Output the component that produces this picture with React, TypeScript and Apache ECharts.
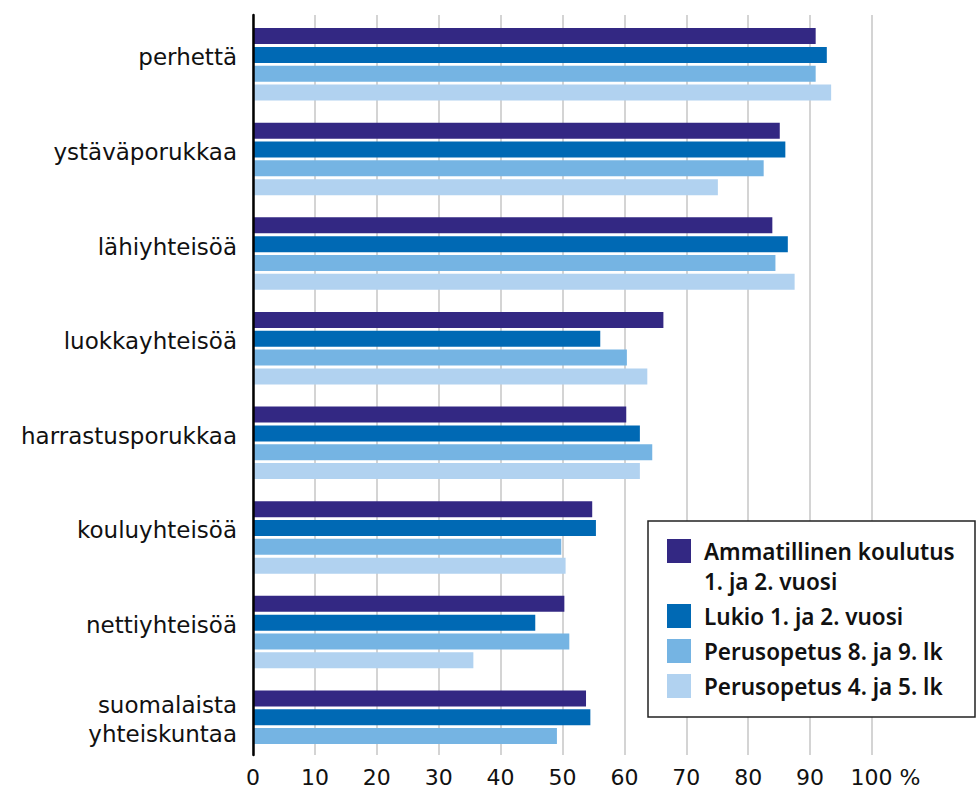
import React, { useEffect, useRef } from 'react';
import * as echarts from 'echarts';

const categories = [
  'perhettä',
  'ystäväporukkaa',
  'lähiyhteisöä',
  'luokkayhteisöä',
  'harrastusporukkaa',
  'kouluyhteisöä',
  'nettiyhteisöä',
  'suomalaista\nyhteiskuntaa',
];

const seriesNames = [
  'Ammatillinen koulutus\n1. ja 2. vuosi',
  'Lukio 1. ja 2. vuosi',
  'Perusopetus 8. ja 9. lk',
  'Perusopetus 4. ja 5. lk',
];

const ammatillinen = [90.9, 85.1, 83.9, 66.3, 60.3, 54.8, 50.3, 53.8];
const lukio = [92.7, 86.0, 86.4, 56.1, 62.5, 55.4, 45.6, 54.5];
const perus89 = [90.9, 82.5, 84.4, 60.4, 64.5, 49.8, 51.1, 49.1];
const perus45 = [93.4, 75.1, 87.5, 63.7, 62.5, 50.5, 35.6, null];

const seriesValues = [ammatillinen, lukio, perus89, perus45];
const colors = ['#332883', '#0069b4', '#75b4e3', '#b1d2f0'];

const xMin = 0;
const xMax = 100;
const xStep = 10;

export default function App() {
  const ref = useRef<HTMLDivElement>(null);

  useEffect(() => {
    const chart = echarts.init(ref.current!, null, { renderer: 'svg' });
    const legendText = {
      fontFamily: 'Noto Sans',
      fontSize: 22.5,
      fontWeight: 600,
      color: '#111',
      lineHeight: 30,
      padding: [0, 0, 0, 8],
    };
    chart.setOption({
      animation: false,
      backgroundColor: '#fff',
      grid: [
        { left: 253, width: 619, top: 17, height: 757 },
        { left: 253, width: 619, top: 15, height: 740 },
      ],
      xAxis: [
        { gridIndex: 0, type: 'value', min: xMin, max: xMax, show: false },
        {
          gridIndex: 1,
          type: 'value',
          min: xMin,
          max: xMax,
          interval: xStep,
          axisLine: { show: false },
          axisTick: { show: false },
          splitLine: { show: true, lineStyle: { color: '#c6c6c6', width: 1.5 } },
          axisLabel: {
            margin: 11,
            fontFamily: 'DejaVu Sans',
            fontSize: 22,
            color: '#111',
            formatter: (v: number) => (v === xMax ? '{pad|}' + v + ' %' : String(v)),
            rich: { pad: { width: 27 } },
          },
        },
      ],
      yAxis: [
        {
          gridIndex: 0,
          type: 'category',
          inverse: true,
          data: categories,
          axisLine: { show: false },
          axisTick: { show: false },
          splitLine: { show: false },
          axisLabel: {
            interval: 0,
            margin: 16,
            fontFamily: 'DejaVu Sans',
            fontSize: 23,
            color: '#111',
            lineHeight: 29,
            formatter: (v: string) => v + '\n{s| }',
            rich: { s: { fontSize: 1, lineHeight: 14 } },
          },
        },
        {
          gridIndex: 1,
          type: 'value',
          min: 0,
          max: 1,
          z: 5,
          axisLine: { show: true, lineStyle: { color: '#000', width: 2.5 } },
          axisTick: { show: false },
          axisLabel: { show: false },
          splitLine: { show: false },
        },
      ],
      graphic: [
        {
          type: 'rect',
          z: 3,
          shape: { x: 648, y: 521, width: 327, height: 196 },
          style: { fill: '#fff', stroke: '#222', lineWidth: 1.5 },
        },
      ],
      legend: [
        {
          left: 667,
          top: 506,
          orient: 'vertical',
          padding: 0,
          itemWidth: 24,
          itemHeight: 24,
          itemGap: 5,
          icon: 'rect',
          selectedMode: false,
          itemStyle: { borderWidth: 0 },
          textStyle: legendText,
          formatter: (name: string) => '\n' + name,
          data: [seriesNames[0]],
        },
        {
          left: 667,
          top: 601,
          orient: 'vertical',
          padding: 0,
          itemWidth: 24,
          itemHeight: 24,
          itemGap: 5,
          icon: 'rect',
          selectedMode: false,
          itemStyle: { borderWidth: 0 },
          textStyle: legendText,
          data: seriesNames.slice(1),
        },
      ],
      series: seriesNames.map((name, i) => ({
        name,
        type: 'bar',
        xAxisIndex: 0,
        yAxisIndex: 0,
        barWidth: 16,
        barGap: '17.5%',
        itemStyle: { color: colors[i] },
        data: seriesValues[i],
      })),
    });
    return () => chart.dispose();
  }, []);

  return (
    <div
      ref={ref}
      style={{ position: 'fixed', left: 0, top: 0, width: 979, height: 790, background: '#fff' }}
    />
  );
}
